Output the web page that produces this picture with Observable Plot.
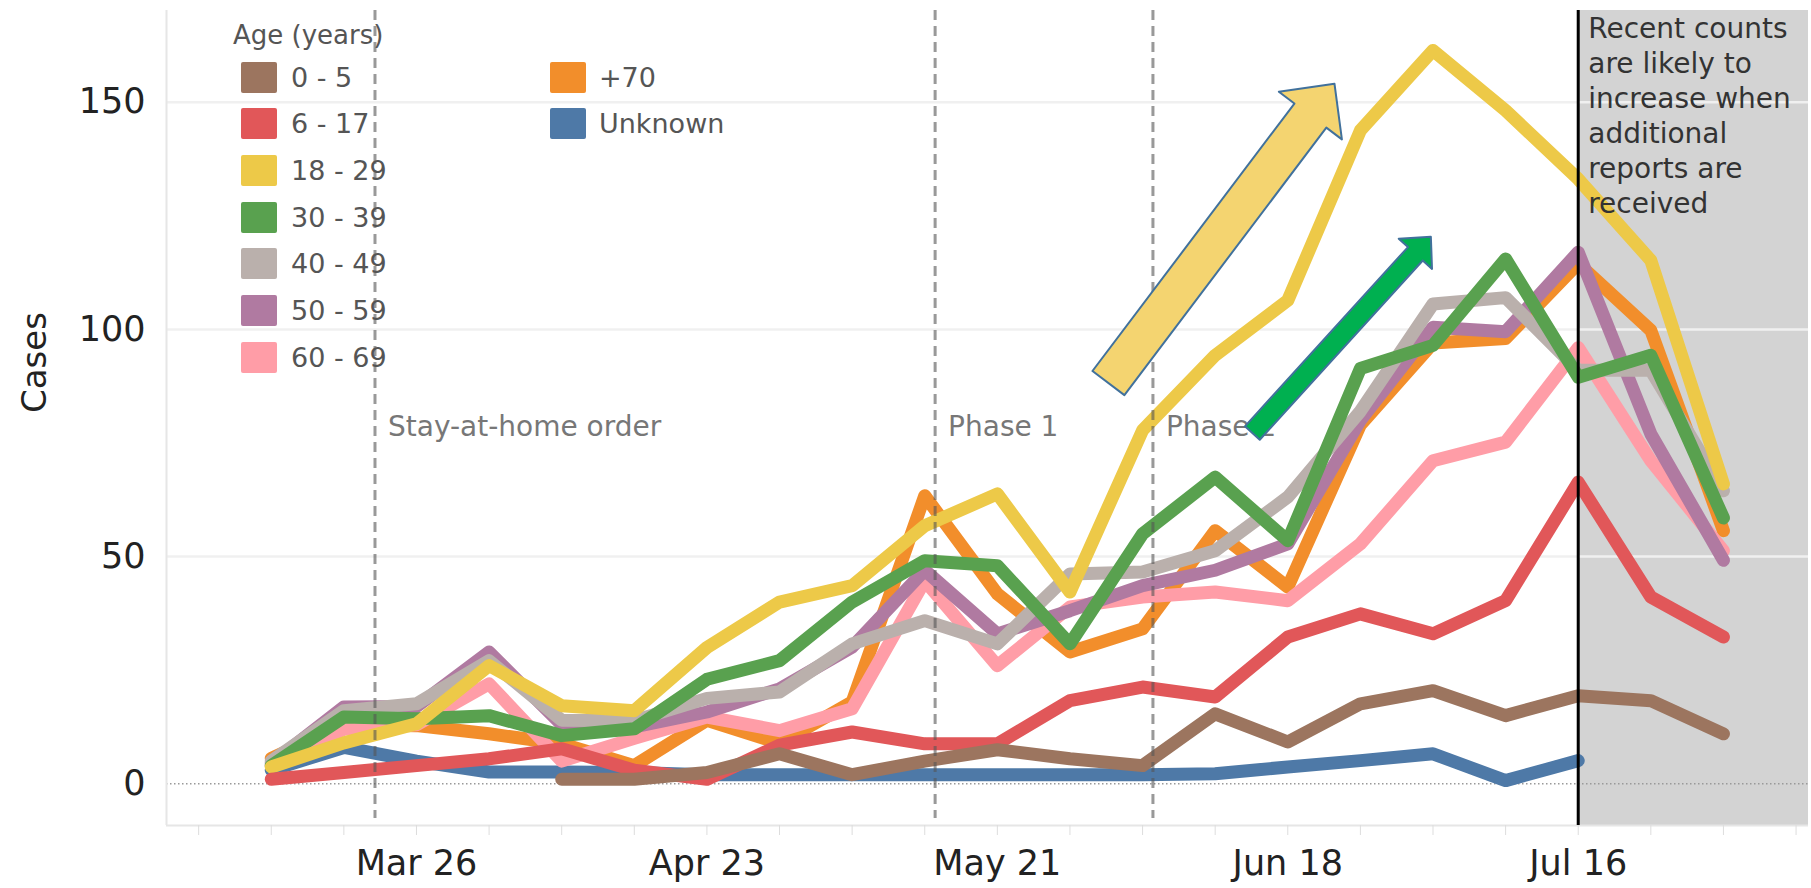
<!DOCTYPE html>
<html><head><meta charset="utf-8">
<script src="https://cdn.jsdelivr.net/npm/d3@7"></script>
<script src="https://cdn.jsdelivr.net/npm/@observablehq/plot@0.6"></script>
<style>
body{margin:0;background:#fff;}
#wrap{position:relative;width:1811px;height:888px;font-family:"DejaVu Sans",sans-serif;}
.lt{position:absolute;font-size:26px;color:#555;white-space:nowrap;line-height:31px;}
.sw{position:absolute;width:36px;height:31px;border-radius:2px;}
.ll{position:absolute;font-size:27px;color:#555;white-space:nowrap;line-height:31px;}
</style></head><body><div id="wrap"></div>
<script>
// ---- data ----
const dates = ["2020-03-12","2020-03-19","2020-03-26","2020-04-02","2020-04-09","2020-04-16","2020-04-23","2020-04-30","2020-05-07","2020-05-14","2020-05-21","2020-05-28","2020-06-04","2020-06-11","2020-06-18","2020-06-25","2020-07-02","2020-07-09","2020-07-16","2020-07-23","2020-07-30"];
const ages = ["0 - 5","6 - 17","18 - 29","30 - 39","40 - 49","50 - 59","60 - 69","+70","Unknown"];
const colors = ["#9c755f","#e15759","#edc948","#59a14f","#bab0ac","#b07aa1","#ff9da7","#f28e2b","#4e79a7"];
const age0_5   = [null,null,null,null,1,1,2.5,6.6,2,5,7.5,5.5,4,15.4,9.2,17.6,20.5,15,19.4,18.3,11];
const age6_17  = [1,2.5,4,5.5,7.7,3,1,8.5,11.4,8.8,8.8,18.3,21.3,19.1,32.3,37.4,33,40.3,66.4,41.1,32.3];
const age18_29 = [3.7,9,13.2,26,17.2,16.1,30,40,43.6,56.8,63.8,42.2,77.8,94.3,106.4,143.8,161.4,148.2,133.1,115.2,66];
const age30_39 = [4,14.7,14.3,15,10.6,12.1,23,27.1,40,49.1,48,30.8,55,67.5,53.5,91.4,96.5,115.5,89.5,94.3,58.5];
const age40_49 = [5,16.1,17.6,27.1,14,13.9,18.8,20.2,30.8,35.9,30.8,46.2,46.6,51.3,63.1,82,105.6,107,91,91,64.5];
const age50_59 = [4.5,16.9,17,29,13,12.5,15.8,20.9,30.1,47,33,38.1,43.6,47,52.8,80,100.5,99.5,117,77,49.2];
const age60_69 = [4,12,13,22,5,10,14.7,11.7,16.5,44.7,26,38.9,41.1,42.2,40.3,52.8,71.1,75.2,96,71.1,51.3];
const age70    = [5.6,13,12.8,11,8.8,4,14,8.9,18,63.4,41.8,29,34.1,55.7,43.3,79,97,98,114.5,99.8,55.7];
const ageUnknown = [3,8,5,2.6,2.6,2.5,2,2,2,2,2,2,2,2.2,3.7,5.1,6.6,0.7,5.1,null,null];
const seriesValues = [age0_5,age6_17,age18_29,age30_39,age40_49,age50_59,age60_69,age70,ageUnknown];

const yTicks = [0,50,100,150];
const xTickLabels = ["2020-03-26","2020-04-23","2020-05-21","2020-06-18","2020-07-16"];
const events = [
  {date:"2020-03-22", label:"Stay-at-home order"},
  {date:"2020-05-15", label:"Phase 1"},
  {date:"2020-06-05", label:"Phase 2"}
];
const recentDate = "2020-07-16";
const recentNote = "Recent counts\nare likely to\nincrease when\nadditional\nreports are\nreceived";
const arrows = [
  {tail:["2020-05-31T17:00Z",88.2], tip:["2020-06-22T12:00Z",154.1], shaft:40, head:79, headLen:40, fill:"#f4d470"},
  {tail:["2020-06-14T14:00Z",77.2], tip:["2020-07-01T19:00Z",120.4], shaft:20, head:45, headLen:23, fill:"#00b050"}
];

// ---- layout ----
const W = 1811, H = 888, mL = 166, mR = 3, mT = 10, mB = 63;
const xDomain = [new Date(Date.UTC(2020,2,1,21,36)), new Date(Date.UTC(2020,7,7,4,48))];
const yDomain = [-9.18, 170.2];
const xs = d3.scaleUtc().domain(xDomain).range([mL, W - mR]);
const ys = d3.scaleLinear().domain(yDomain).range([H - mB, mT]);

const rows = [];
for (let k = ages.length - 1; k >= 0; k--) {
  dates.forEach((d, i) => rows.push({date: new Date(d), age: ages[k], value: seriesValues[k][i]}));
}

// arrow polygons (built in pixel space, mapped back to data)
const arrowRows = [];
arrows.forEach((a, idx) => {
  const p0 = [xs(new Date(a.tail[0])), ys(a.tail[1])];
  const p1 = [xs(new Date(a.tip[0])), ys(a.tip[1])];
  const dx = p1[0]-p0[0], dy = p1[1]-p0[1], L = Math.hypot(dx, dy);
  const u = [dx/L, dy/L], n = [-u[1], u[0]];
  const b = [p1[0]-u[0]*a.headLen, p1[1]-u[1]*a.headLen];
  const pts = [
    [p0[0]+n[0]*a.shaft/2, p0[1]+n[1]*a.shaft/2],
    [b[0]+n[0]*a.shaft/2, b[1]+n[1]*a.shaft/2],
    [b[0]+n[0]*a.head/2, b[1]+n[1]*a.head/2],
    p1,
    [b[0]-n[0]*a.head/2, b[1]-n[1]*a.head/2],
    [b[0]-n[0]*a.shaft/2, b[1]-n[1]*a.shaft/2],
    [p0[0]-n[0]*a.shaft/2, p0[1]-n[1]*a.shaft/2]
  ];
  pts.forEach(p => arrowRows.push({id: idx, fill: a.fill, date: xs.invert(p[0]), value: ys.invert(p[1])}));
});

const weekTicks = d3.utcThursday.range(new Date("2020-03-05"), new Date("2020-08-07"));

const plot = Plot.plot({
  width: W, height: H,
  marginLeft: mL, marginRight: mR, marginTop: mT, marginBottom: mB,
  style: {fontFamily: "DejaVu Sans", color: "#222", background: "white", overflow: "visible"},
  x: {type: "utc", domain: xDomain},
  y: {domain: yDomain},
  color: {domain: ages, range: colors},
  marks: [
    Plot.rect([{x1: new Date(recentDate), x2: xDomain[1]}], {x1: "x1", x2: "x2", y1: yDomain[0], y2: yDomain[1], fill: "#d3d3d3"}),
    Plot.ruleY([50,100,150], {stroke: "#f0f0f0", strokeWidth: 2.5}),
    Plot.ruleY([0], {stroke: "#999", strokeWidth: 1.5, strokeDasharray: "1.5,2.5"}),
    Plot.ruleX([xDomain[0]], {stroke: "#e6e6e6", strokeWidth: 2}),
    Plot.ruleY([yDomain[0]], {stroke: "#e6e6e6", strokeWidth: 2}),
    Plot.text(events, {x: d => new Date(d.date), text: "label", frameAnchor: "top", dy: 406, dx: 13, textAnchor: "start", fontSize: 28, fill: "#777"}),
    Plot.line(rows, {x: "date", y: "value", z: "age", stroke: "age", strokeWidth: 13, strokeLinejoin: "round", strokeLinecap: "round"}),
    Plot.ruleX(events, {x: d => new Date(d.date), stroke: "#555", strokeOpacity: 0.6, strokeWidth: 3, strokeDasharray: "10,6", insetBottom: 7}),
    Plot.line(arrowRows, {x: "date", y: "value", z: "id", fill: d => d.fill, stroke: "#41719c", strokeWidth: 2, curve: "linear-closed"}),
    Plot.ruleX([new Date(recentDate)], {stroke: "black", strokeWidth: 3}),
    Plot.text([recentNote], {x: new Date(recentDate), frameAnchor: "top", dy: 3, dx: 10, textAnchor: "start", lineAnchor: "top", lineHeight: 1.25, fontSize: 28, fill: "#333"}),
    Plot.text(["Cases"], {frameAnchor: "left", dx: -131, dy: -5, rotate: -90, fontSize: 34, fill: "#222"}),
    Plot.axisY(yTicks, {tickSize: 0, tickPadding: 21, fontSize: 35, label: null}),
    Plot.axisX(weekTicks, {tickSize: 10, tickFormat: () => "", stroke: "#ddd", label: null}),
    Plot.axisX(xTickLabels.map(d => new Date(d)), {tickSize: 0, tickPadding: 25, fontSize: 35, tickFormat: d3.utcFormat("%b %-d"), label: null})
  ]
});
const wrap = document.getElementById("wrap");
wrap.append(plot);

// ---- legend (overlay) ----
const title = document.createElement("div");
title.className = "lt"; title.textContent = "Age (years)";
title.style.left = "233px"; title.style.top = "20px";
wrap.append(title);
ages.forEach((a, i) => {
  const col = i < 7 ? 0 : 1, row = i < 7 ? i : i - 7;
  const cy = 77 + row * 46.67;
  const sw = document.createElement("div");
  sw.className = "sw"; sw.style.background = colors[i];
  sw.style.left = (col ? 550 : 241) + "px"; sw.style.top = (cy - 15.5) + "px";
  const lb = document.createElement("div");
  lb.className = "ll"; lb.textContent = a;
  lb.style.left = (col ? 599 : 291) + "px"; lb.style.top = (cy - 15.5) + "px";
  wrap.append(sw, lb);
});
</script></body></html>
